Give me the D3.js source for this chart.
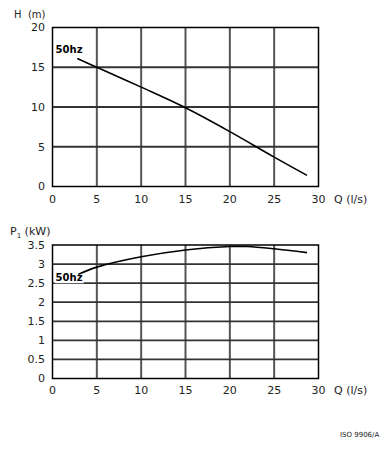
<!DOCTYPE html>
<html><head><meta charset="utf-8">
<script src="https://cdn.jsdelivr.net/npm/d3@7"></script>
<style>body{margin:0;background:#fff}svg{display:block}text{font-family:"DejaVu Sans",sans-serif;white-space:pre}</style>
</head><body><div id="c"></div>
<script>
const qTicks = [0,5,10,15,20,25,30];
const hTicks = [0,5,10,15,20];
const pTicks = [0,0.5,1,1.5,2,2.5,3,3.5];
const hQ = [2.8,5,10,15,20,25,28.7];
const hVal = [16.1,15.0,12.5,9.9,6.9,3.7,1.4];
const pQ = [2.9,5,10,15,20,22,25,28.7];
const pVal = [2.73,2.92,3.19,3.37,3.46,3.46,3.40,3.30];
const curveLabel = "50hz";

const W=389,H=450;
const svg=d3.select("#c").append("svg").attr("width",W).attr("height",H);
const x=d3.scaleLinear().domain([0,30]).range([52.5,318.5]);

function panel(yDomain, yRange, ticks, qs, vals, labelPos, xLabelY, yFmt){
  const y=d3.scaleLinear().domain(yDomain).range(yRange);
  const g=svg.append("g");
  g.selectAll(".vg").data(qTicks.slice(1,-1)).join("line")
    .attr("x1",d=>x(d)).attr("x2",d=>x(d)).attr("y1",y(yDomain[0])).attr("y2",y(yDomain[1]))
    .attr("stroke","#555").attr("stroke-width",2);
  g.selectAll(".hg").data(ticks.slice(1,-1)).join("line")
    .attr("y1",d=>y(d)).attr("y2",d=>y(d)).attr("x1",x(0)).attr("x2",x(30))
    .attr("stroke","#333").attr("stroke-width",1.8);
  g.append("rect").attr("x",x(0)).attr("y",y(yDomain[1])).attr("width",x(30)-x(0)).attr("height",y(yDomain[0])-y(yDomain[1]))
    .attr("fill","none").attr("stroke","#000").attr("stroke-width",1.5);
  const lbl=g.append("text").attr("x",x(labelPos[0])).attr("y",y(labelPos[1])).attr("font-size",10).attr("font-weight","bold").text(curveLabel);
  const bb=lbl.node().getBBox();
  g.insert("rect","text").attr("x",bb.x-1).attr("y",bb.y).attr("width",bb.width+2).attr("height",bb.height).attr("fill","#fff");
  g.append("path").datum(qs.map((q,i)=>[q,vals[i]]))
    .attr("d",d3.line().x(d=>x(d[0])).y(d=>y(d[1])).curve(d3.curveCatmullRom.alpha(0.5)))
    .attr("fill","none").attr("stroke","#000").attr("stroke-width",1.6);
  g.selectAll(".yt").data(ticks).join("text").attr("x",45).attr("y",d=>y(d)).attr("dy","0.35em")
    .attr("text-anchor","end").attr("font-size",11).attr("fill","#222").text(yFmt);
  g.selectAll(".xt").data(qTicks).join("text").attr("x",d=>x(d)).attr("y",xLabelY).attr("dy","0.35em")
    .attr("text-anchor","middle").attr("font-size",11).attr("fill","#222").text(d=>d);
  g.append("text").attr("x",334).attr("y",xLabelY).attr("dy","0.35em").attr("font-size",11).attr("fill","#222").text("Q (l/s)");
  return y;
}

panel([0,20],[186.5,27.5],hTicks,hQ,hVal,[0.35,16.8],199,d=>d);
panel([0,3.5],[378.5,245],pTicks,pQ,pVal,[0.35,2.55],390.5,d=>d);

svg.append("text").attr("x",14).attr("y",18).attr("font-size",10).attr("fill","#222").text("H  (m)");
const pt=svg.append("text").attr("x",10).attr("y",235).attr("font-size",11).attr("fill","#222");
pt.append("tspan").text("P");
pt.append("tspan").attr("font-size",7).attr("dy",3).text("1");
pt.append("tspan").attr("dy",-3).text(" (kW)");
svg.append("text").attr("x",340).attr("y",437).attr("font-size",7).attr("fill","#222").text("ISO 9906/A");
</script></body></html>
